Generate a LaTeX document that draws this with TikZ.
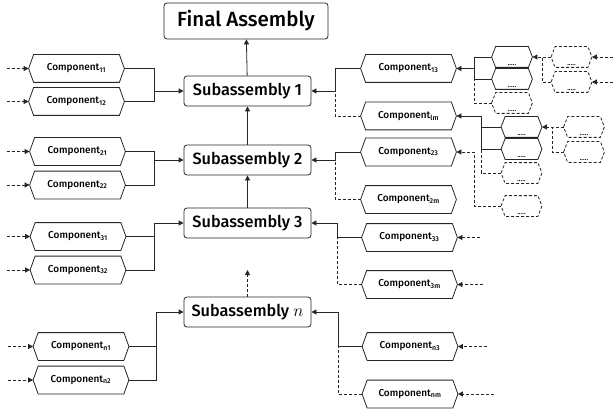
\documentclass[tikz,border=0pt]{standalone}
\usepackage{fontspec}
\setmainfont{Fira Sans}[UprightFont=* Medium]
\usetikzlibrary{arrows.meta}
\newcommand{\hexshape}[3][]{\draw[#1] (#2.west) -- ([xshift=#3]#2.north west) -- ([xshift=-#3]#2.north east) -- (#2.east) -- ([xshift=-#3]#2.south east) -- ([xshift=#3]#2.south west) -- cycle;}
\begin{document}
\begin{tikzpicture}[x=1pt,y=-1pt, line width=0.8pt, draw=black!85,
  >={Triangle[length=5pt,width=5pt]},
  final/.style={draw, rounded corners=3pt, minimum width=164pt, minimum height=36pt, inner sep=0, font=\fontsize{20.5}{23}\selectfont},
  sub/.style={draw, rounded corners=3pt, minimum width=127pt, minimum height=30pt, inner sep=0, font=\fontsize{16.3}{19}\selectfont},
  comp/.style={minimum width=95pt, minimum height=27pt, inner sep=0, font=\fontsize{10}{12}\selectfont},
  dotbox/.style={minimum width=40pt, minimum height=20pt, inner sep=0,
    label={[anchor=south, yshift=1pt, inner sep=0, font=\fontsize{7}{7}\selectfont]south:.....}},
  dsh/.style={dash pattern=on 3pt off 2pt}
]
\useasboundingbox (0,0) rectangle (614,412);

% main boxes
\node[final] (fin) at (246,21) {Final Assembly};
\node[sub] (s1) at (247.5,91) {Subassembly 1};
\node[sub] (s2) at (247.5,160) {Subassembly 2};
\node[sub] (s3) at (247.5,223) {Subassembly 3};
\node[sub] (sn) at (247.5,312) {Subassembly $n$};
\coordinate (sup) at (247.5,270);

\draw[->] (s1) -- (fin);
\draw[->] (s2) -- (s1);
\draw[->] (s3) -- (s2);
\draw[dsh,->] (sn) -- (sup);

% left components
\node[comp] (c11) at (76.5,68.5) {Component\textsubscript{11}};
\node[comp] (c12) at (76.5,101.5) {Component\textsubscript{12}};
\node[comp] (c21) at (77.5,151.5) {Component\textsubscript{21}};
\node[comp] (c22) at (77.5,185) {Component\textsubscript{22}};
\node[comp] (c31) at (78,236.5) {Component\textsubscript{31}};
\node[comp] (c32) at (78,270) {Component\textsubscript{32}};
\node[comp] (cn1) at (81,346.5) {Component\textsubscript{n1}};
\node[comp] (cn2) at (81,380) {Component\textsubscript{n2}};
\foreach \n in {c11,c12,c21,c22,c31,c32,cn1,cn2}{
  \hexshape{\n}{5pt}
}
\draw[dsh,->] ([xshift=-22pt]c11.west) -- (c11.west);
\draw[dsh,->] ([xshift=-22pt]c12.west) -- (c12.west);
\draw[dsh,->] ([xshift=-23pt]c21.west) -- (c21.west);
\draw[dsh,->] ([xshift=-23pt]c22.west) -- (c22.west);
\draw[dsh,->] ([xshift=-23pt]c31.west) -- (c31.west);
\draw[dsh,->] ([xshift=-23pt]c32.west) -- (c32.west);
\draw[dsh,->] ([xshift=-25pt]cn1.west) -- (cn1.west);
\draw[dsh,->] ([xshift=-25pt]cn2.west) -- (cn2.west);

\coordinate (jl1) at (154,91);
\coordinate (jl2) at (154,160);
\coordinate (jl3) at (154,223);
\coordinate (jln) at (156,312);
\draw (c11.east) -| (jl1);
\draw[->] (c12.east) -| (jl1) -- (s1.west);
\draw (c21.east) -| (jl2);
\draw[->] (c22.east) -| (jl2) -- (s2.west);
\draw (c31.east) -| (jl3);
\draw[->] (c32.east) -| (jl3) -- (s3.west);
\draw (cn1.east) -| (jln);
\draw[->] (cn2.east) -| (jln) -- (sn.west);

% right components
\node[comp] (c13) at (408.5,68.5) {Component\textsubscript{13}};
\node[comp] (c1m) at (408.5,116) {Component\textsubscript{lm}};
\node[comp] (c23) at (408.5,152) {Component\textsubscript{23}};
\node[comp] (c2m) at (408.5,199.5) {Component\textsubscript{2m}};
\node[comp] (c33) at (409.5,237.5) {Component\textsubscript{33}};
\node[comp] (c3m) at (409.5,284.5) {Component\textsubscript{3m}};
\node[comp] (cn3) at (410,346.5) {Component\textsubscript{n3}};
\node[comp] (cnm) at (410,394) {Component\textsubscript{nm}};
\foreach \n in {c13,c1m,c23,c2m,c33,c3m,cn3,cnm}{
  \hexshape{\n}{5pt}
}
\coordinate (jr1) at (335,91);
\coordinate (jr2) at (335,160);
\coordinate (jr3) at (337,223);
\coordinate (jrn) at (338,312);
\draw[->] (c13.west) -| (jr1) -- (s1.east);
\draw[dsh] (c1m.west) -| (jr1);
\draw[->] (c23.west) -| (jr2) -- (s2.east);
\draw[dsh] (c2m.west) -| (jr2);
\draw[->] (c33.west) -| (jr3) -- (s3.east);
\draw[dsh] (c3m.west) -| (jr3);
\draw[->] (cn3.west) -| (jrn) -- (sn.east);
\draw[dsh] (cnm.west) -| (jrn);

\draw[dsh,->] ([xshift=23pt]c33.east) -- (c33.east);
\draw[dsh,->] ([xshift=26pt]c3m.east) -- (c3m.east);
\draw[dsh,->] ([xshift=29pt]cn3.east) -- (cn3.east);
\draw[dsh,->] ([xshift=36pt]cnm.east) -- (cnm.east);

% small sub-components
\node[dotbox] (a1) at (512,57) {};
\node[dotbox] (a2) at (512,79) {};
\node[dotbox] (a3) at (512,103) {};
\node[dotbox] (b1) at (571.5,57) {};
\node[dotbox] (b2) at (571.5,82) {};
\node[dotbox] (k1) at (521.5,127) {};
\node[dotbox] (k2) at (521.5,149) {};
\node[dotbox] (k3) at (521.5,173) {};
\node[dotbox] (k4) at (521.5,206) {};
\node[dotbox] (d1) at (584,127) {};
\node[dotbox] (d2) at (584,152) {};
\hexshape{a1}{4pt}
\hexshape{a2}{4pt}
\hexshape{k1}{4pt}
\hexshape{k2}{4pt}
\foreach \n in {a3,b1,b2,k3,k4,d1,d2}{
  \hexshape[dsh]{\n}{4pt}
}

\coordinate (ja) at (474,68.5);
\coordinate (jb) at (542,57);
\coordinate (jc) at (481,116);
\coordinate (jd) at (474,152);
\coordinate (je) at (552,127);

\draw (a1.west) -| (ja);
\draw[->] (a2.west) -| (ja) -- (c13.east);
\draw[dsh] (a3.west) -| (ja);

\draw[dsh,->] (b1.west) -- (jb) -- (a1.east);
\draw[dsh] (b2.west) -| (jb);
\draw[dsh,->] ([xshift=26pt]b1.east) -- (b1.east);
\draw[dsh,->] ([xshift=26pt]b2.east) -- (b2.east);

\draw (k1.west) -| (jc);
\draw[->] (k2.west) -| (jc) -- (c1m.east);
\draw[dsh] (k3.west) -| (k2.west -| jc);

\draw[dsh,->] (k4.west) -| (jd) -- (c23.east);

\draw[dsh,->] (d1.west) -- (je) -- (k1.east);
\draw[dsh] (d2.west) -| (je);
\end{tikzpicture}
\end{document}
